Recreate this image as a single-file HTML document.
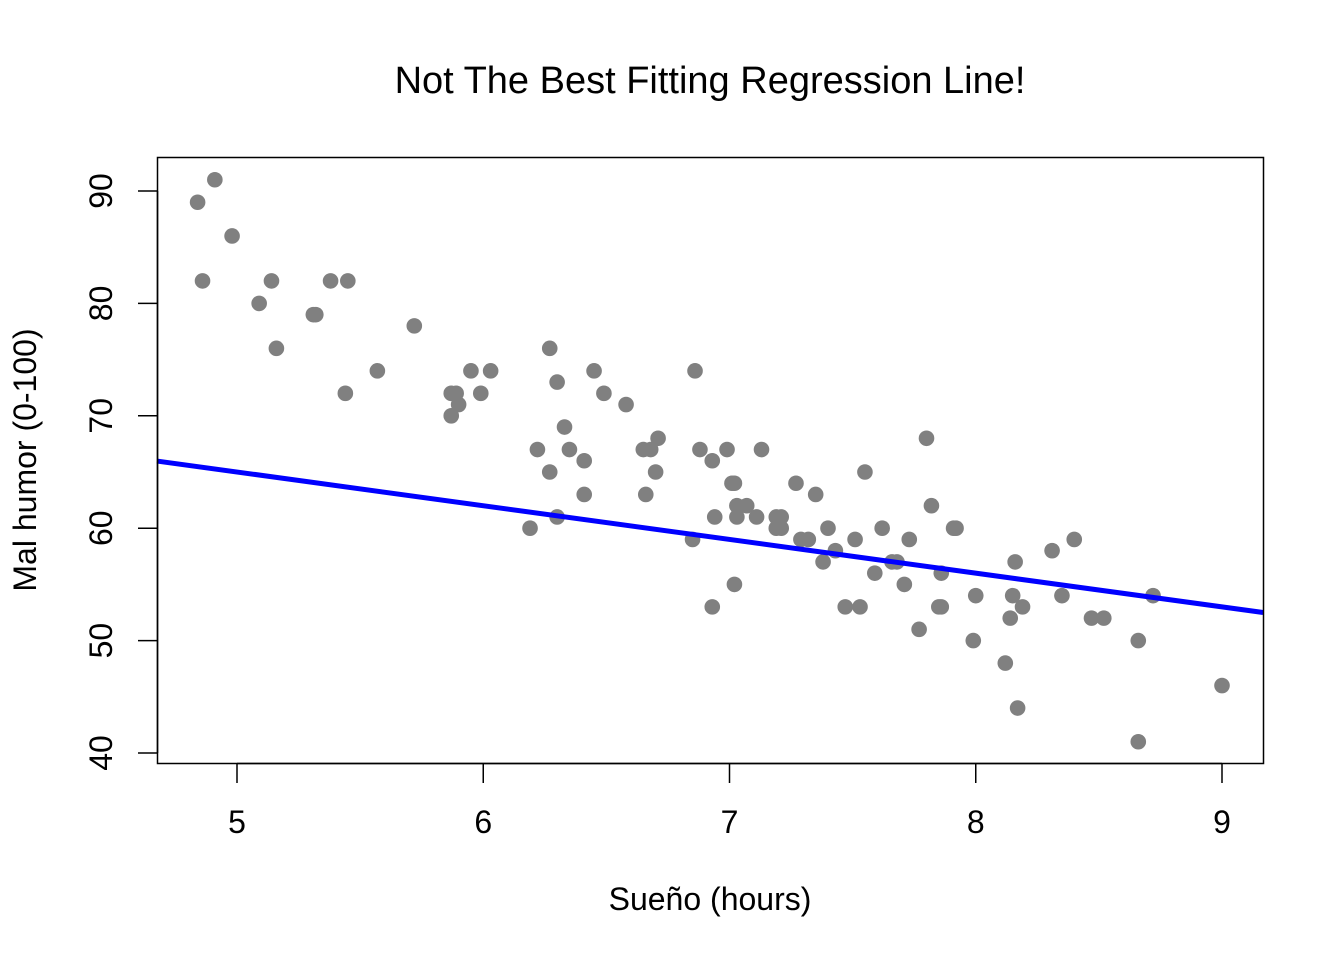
<!DOCTYPE html>
<html><head><meta charset="utf-8"><style>
html,body{margin:0;padding:0;background:#fff;}
svg text{font-family:"Liberation Sans",Arial,sans-serif;fill:#000;}
</style></head><body>
<svg id="chart" width="1344" height="960" viewBox="0 0 1344 960" xmlns="http://www.w3.org/2000/svg">
<text x="710" y="93" font-size="38" text-anchor="middle">Not The Best Fitting Regression Line!</text>
<text x="710" y="910" font-size="32" text-anchor="middle">Sueño (hours)</text>
<text x="0" y="0" font-size="32" text-anchor="middle" transform="translate(36,460) rotate(-90)">Mal humor (0-100)</text>
<g id="marks"></g>
<rect x="157.5" y="157.5" width="1106" height="606" fill="none" stroke="#000" stroke-width="1.5"/>
<g id="axes"></g>
</svg>
<script>
const sleep = [4.84,4.91,4.86,4.98,5.09,5.14,5.16,5.31,5.32,5.38,5.45,5.44,5.57,5.72,5.87,5.89,5.87,5.90,5.95,5.99,6.03,6.19,6.22,6.27,6.27,6.30,6.30,6.33,6.35,6.41,6.41,6.45,6.49,6.58,6.65,6.68,6.66,6.70,6.71,6.85,6.86,6.88,6.93,6.93,6.94,6.99,7.01,7.02,7.02,7.03,7.03,7.07,7.11,7.13,7.19,7.21,7.19,7.21,7.27,7.29,7.32,7.35,7.38,7.40,7.43,7.47,7.51,7.53,7.55,7.59,7.62,7.66,7.68,7.71,7.73,7.77,7.80,7.82,7.85,7.86,7.86,7.91,7.92,7.99,8.00,8.12,8.14,8.15,8.16,8.17,8.19,8.31,8.35,8.40,8.47,8.52,8.66,8.66,8.72,9.00];
const mood = [89,91,82,86,80,82,76,79,79,82,82,72,74,78,72,72,70,71,74,72,74,60,67,76,65,73,61,69,67,66,63,74,72,71,67,67,63,65,68,59,74,67,66,53,61,67,64,64,55,62,61,62,61,67,61,61,60,60,64,59,59,63,57,60,58,53,59,53,65,56,60,57,57,55,59,51,68,62,53,53,56,60,60,50,54,48,52,54,57,44,53,58,54,59,52,52,50,41,54,46];
const xTicks = [5,6,7,8,9];
const yTicks = [40,50,60,70,80,90];
const lineIntercept = 80;
const lineSlope = -3;
const xMin = 4.675, xMax = 9.167;

function X(v){ return 237 + (v-5)*246.25; }
function Y(v){ return 753 - (v-40)*11.24; }
const NS = "http://www.w3.org/2000/svg";
const marks = document.getElementById('marks');
const axes = document.getElementById('axes');
function mk(tag, attrs, parent){ const e=document.createElementNS(NS,tag); for(const k in attrs) e.setAttribute(k,attrs[k]); parent.appendChild(e); return e; }

for(let i=0;i<sleep.length;i++){
  const c = mk('circle',{cx:X(sleep[i]),cy:Y(mood[i]),r:7.8,fill:'#808080'},marks);
  
  
}
const ln = mk('line',{x1:X(xMin),y1:Y(lineIntercept+lineSlope*xMin),x2:X(xMax),y2:Y(lineIntercept+lineSlope*xMax),stroke:'#0000ff','stroke-width':5},marks);



const xa = mk('line',{x1:X(xTicks[0]),y1:763.5,x2:X(xTicks[xTicks.length-1]),y2:763.5,stroke:'#000','stroke-width':1.5},axes);


for(const t of xTicks){
  const tk = mk('line',{x1:X(t),y1:763.5,x2:X(t),y2:783,stroke:'#000','stroke-width':1.5},axes);
  
  
  const tx = mk('text',{x:X(t),y:833,'font-size':32,'text-anchor':'middle'},axes);
  tx.textContent = t;
  
  
}
const ya = mk('line',{x1:157.5,y1:Y(yTicks[0]),x2:157.5,y2:Y(yTicks[yTicks.length-1]),stroke:'#000','stroke-width':1.5},axes);


for(const t of yTicks){
  const tk = mk('line',{x1:138,y1:Y(t),x2:157.5,y2:Y(t),stroke:'#000','stroke-width':1.5},axes);
  
  
  const tx = mk('text',{x:0,y:0,'font-size':32,'text-anchor':'middle',transform:`translate(112,${Y(t)}) rotate(-90)`},axes);
  tx.textContent = t;
  
  
}
</script>
</body></html>
